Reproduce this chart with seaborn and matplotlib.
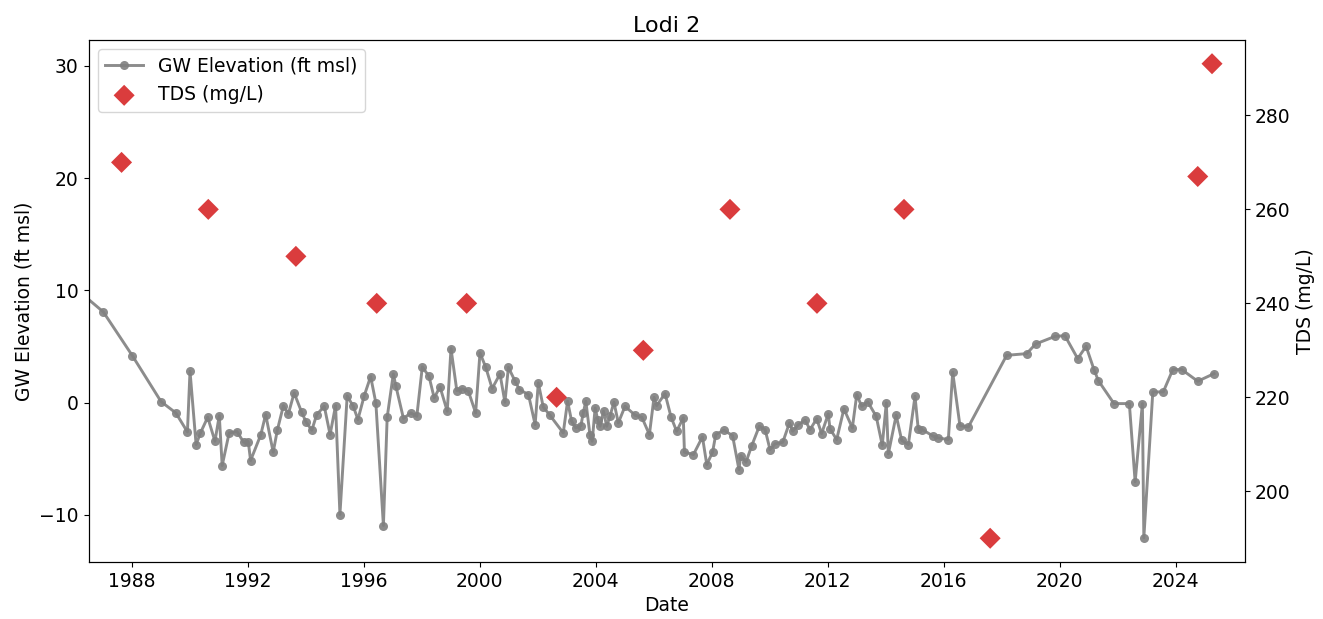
import pandas as pd
import numpy as np
import matplotlib
matplotlib.use("Agg")
import matplotlib.pyplot as plt
import matplotlib.dates as mdates
import seaborn as sns

# Data (decimal years)
gw_years = [
    1985.50, 1987.02, 1988.02, 1989.01, 1989.52, 1989.92, 1990.01, 1990.22, 1990.37,
    1990.62, 1990.87, 1991.02, 1991.12, 1991.36, 1991.63, 1991.86, 1992.02, 1992.10,
    1992.45, 1992.62, 1992.88, 1993.02, 1993.23, 1993.40, 1993.60, 1993.86, 1994.01,
    1994.21, 1994.38, 1994.64, 1994.84, 1995.03, 1995.18, 1995.43, 1995.64, 1995.80,
    1996.02, 1996.24, 1996.42, 1996.68, 1996.81, 1997.02, 1997.11, 1997.37, 1997.62,
    1997.83, 1998.02, 1998.25, 1998.43, 1998.63, 1998.88, 1999.01, 1999.21, 1999.39,
    1999.61, 1999.86, 2000.01, 2000.21, 2000.43, 2000.70, 2000.87, 2000.99, 2001.22,
    2001.37, 2001.68, 2001.91, 2002.02, 2002.19, 2002.42, 2002.88, 2003.03, 2003.17,
    2003.31, 2003.49, 2003.57, 2003.66, 2003.80, 2003.88, 2003.98, 2004.07, 2004.15,
    2004.27, 2004.38, 2004.49, 2004.63, 2004.78, 2005.01, 2005.36, 2005.59, 2005.85,
    2006.01, 2006.10, 2006.39, 2006.60, 2006.79, 2007.02, 2007.06, 2007.37, 2007.68,
    2007.83, 2008.03, 2008.14, 2008.42, 2008.72, 2008.94, 2009.00, 2009.18, 2009.38,
    2009.64, 2009.84, 2010.01, 2010.18, 2010.45, 2010.68, 2010.79, 2010.99, 2011.22,
    2011.39, 2011.62, 2011.79, 2012.02, 2012.08, 2012.31, 2012.56, 2012.85, 2013.00,
    2013.17, 2013.38, 2013.67, 2013.88, 2014.02, 2014.09, 2014.36, 2014.55, 2014.78,
    2015.01, 2015.12, 2015.26, 2015.64, 2015.81, 2016.16, 2016.31, 2016.56, 2016.85,
    2018.17, 2018.86, 2019.17, 2019.84, 2020.18, 2020.62, 2020.91, 2021.18, 2021.33,
    2021.87, 2022.40, 2022.60, 2022.85, 2022.90, 2023.21, 2023.57, 2023.90, 2024.21,
    2024.76, 2025.32,
]
gw_elev = [
    11.4, 8.08, 4.19, 0.09, -0.92, -2.61, 2.79, -3.74, -2.70,
    -1.31, -3.44, -1.16, -5.61, -2.70, -2.58, -3.53, -3.47, -5.16,
    -2.88, -1.07, -4.42, -2.46, -0.27, -1.01, 0.86, -0.86, -1.72,
    -2.46, -1.07, -0.33, -2.85, -0.27, -9.97, 0.59, -0.33, -1.51,
    0.62, 2.32, -0.03, -10.95, -1.31, 2.55, 1.45, -1.42, -0.92,
    -1.22, 3.18, 2.34, 0.42, 1.40, -0.77, 4.81, 1.07, 1.22,
    1.01, -0.92, 4.43, 3.14, 1.25, 2.55, 0.03, 3.14, 1.90,
    1.16, 0.71, -1.96, 1.75, -0.39, -1.13, -2.70, 0.12, -1.66,
    -2.26, -2.05, -0.92, 0.12, -2.85, -3.44, -0.48, -1.51, -2.11,
    -0.77, -2.11, -1.22, 0.03, -1.81, -0.33, -1.13, -1.31, -2.85,
    0.47, -0.27, 0.80, -1.31, -2.55, -1.36, -4.42, -4.63, -3.06,
    -5.52, -4.42, -2.85, -2.46, -2.94, -5.97, -4.72, -5.31, -3.83,
    -2.11, -2.40, -4.19, -3.68, -3.53, -1.81, -2.55, -1.96, -1.57,
    -2.40, -1.45, -2.76, -1.01, -2.34, -3.29, -0.56, -2.26, 0.71,
    -0.33, 0.06, -1.22, -3.80, -0.03, -4.57, -1.13, -3.36, -3.74,
    0.56, -2.32, -2.40, -3.00, -3.15, -3.29, 2.70, -2.05, -2.17,
    4.21, 4.36, 5.22, 5.90, 5.96, 3.92, 5.01, 2.94, 1.96,
    -0.09, -0.09, -7.06, -0.09, -12.05, 0.95, 0.95, 2.94, 2.94,
    1.90, 2.58,
]

tds_years = [1987.65, 1990.64, 1993.66, 1996.45, 1999.55, 2002.65, 2005.64,
             2008.63, 2011.63, 2014.63, 2017.60, 2024.76, 2025.25]
tds_vals = [270, 260, 250, 240, 240, 220, 230, 260, 240, 260, 190, 267, 291]


def to_date(y):
    yr = int(np.floor(y))
    return pd.Timestamp(year=yr, month=1, day=1) + pd.Timedelta(days=(y - yr) * 365.25)


gw = pd.DataFrame({"Date": [to_date(y) for y in gw_years], "GW": gw_elev})
tds = pd.DataFrame({"Date": [to_date(y) for y in tds_years], "TDS": tds_vals})

plt.rcParams['font.family'] = ['DejaVu Sans']
fs = 13.5
fig, ax = plt.subplots(figsize=(13.23, 6.19), dpi=100)
fig.subplots_adjust(left=0.0669, right=0.9413, top=0.9354, bottom=0.0921)

sns.lineplot(data=gw, x="Date", y="GW", ax=ax, color="gray", alpha=0.9,
             linewidth=2.1, marker="o", markersize=6.5, markeredgewidth=0,
             estimator=None, sort=False, label="GW Elevation (ft msl)")

ax2 = ax.twinx()
sns.scatterplot(data=tds, x="Date", y="TDS", ax=ax2, color="#d62728", alpha=0.9,
                marker="D", s=115, edgecolor="none", label="TDS (mg/L)")

ax.set_xlim(to_date(1986.51), to_date(2026.40))
ax.set_ylim(-14.2, 32.3)
ax2.set_ylim(184.95, 296.05)

ax.xaxis.set_major_locator(mdates.YearLocator(4))
ax.xaxis.set_major_formatter(mdates.DateFormatter('%Y'))

ax.set_xlabel("Date", fontsize=fs)
ax.set_ylabel("GW Elevation (ft msl)", fontsize=fs)
ax2.set_ylabel("TDS (mg/L)", fontsize=fs)
ax.set_title("Lodi 2", fontsize=16)
ax.tick_params(labelsize=fs)
ax2.tick_params(labelsize=fs)

h1, l1 = ax.get_legend_handles_labels()
h2, l2 = ax2.get_legend_handles_labels()
if ax.get_legend() is not None:
    ax.get_legend().remove()
ax2.legend(h1 + h2, l1 + l2, loc="upper left", fontsize=fs)

fig.savefig("out.png", dpi=100)
